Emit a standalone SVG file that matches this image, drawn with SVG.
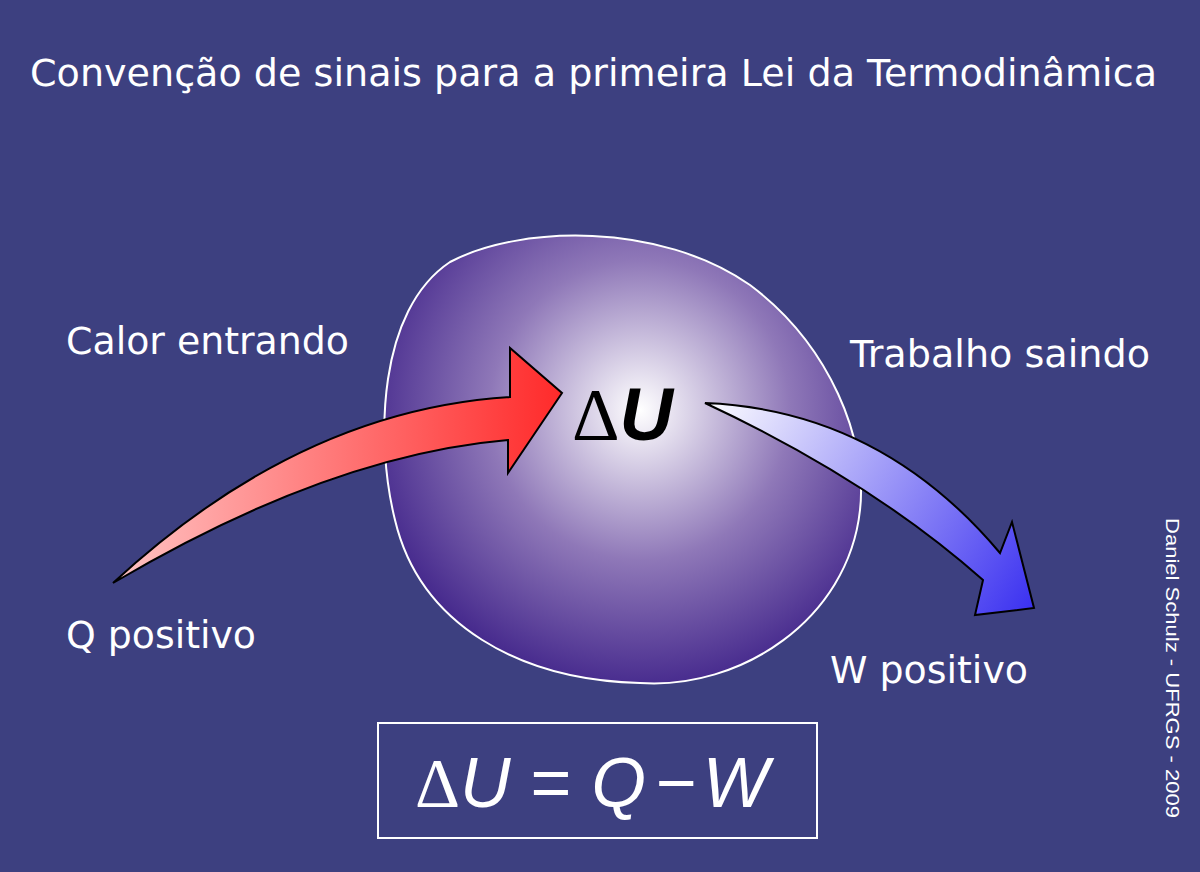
<svg xmlns="http://www.w3.org/2000/svg" width="1200" height="872" viewBox="0 0 1200 872">
<defs>
<radialGradient id="blob" cx="640" cy="410" r="300" gradientUnits="userSpaceOnUse">
<stop offset="0" stop-color="#ffffff"/><stop offset="0.5" stop-color="#8f78b8"/><stop offset="1" stop-color="#3a1d86"/>
</radialGradient>
<linearGradient id="red" x1="113" y1="0" x2="562" y2="0" gradientUnits="userSpaceOnUse">
<stop offset="0" stop-color="#ffc4c4"/><stop offset="1" stop-color="#ff2a2a"/></linearGradient>
<linearGradient id="blue" x1="705" y1="400" x2="1034" y2="610" gradientUnits="userSpaceOnUse">
<stop offset="0" stop-color="#ffffff"/><stop offset="1" stop-color="#3a30f0"/></linearGradient>
<style>
.t{font-family:"DejaVu Sans",Verdana,sans-serif;fill:#fff;font-size:37px}
.m{font-family:"Liberation Sans",Arial,sans-serif;font-style:italic}
</style>
</defs>
<rect width="1200" height="872" fill="#3d4080"/>
<text class="t" x="30" y="86" font-size="38" textLength="1127" lengthAdjust="spacingAndGlyphs">Convenção de sinais para a primeira Lei da Termodinâmica</text>
<g id="system">
<path d="M450,262 C520,225 660,222 750,285 C830,345 868,440 860,510 C848,620 740,690 640,683 C520,680 420,625 395,520 C375,440 378,310 450,262 Z" fill="url(#blob)" stroke="#fff" stroke-width="2"/>
<text x="572" y="440" font-size="74" fill="#000"><tspan font-family="Liberation Serif,serif">Δ</tspan><tspan class="m" font-weight="bold">U</tspan></text>
</g>
<g id="connectors" stroke="#000" stroke-width="2" stroke-linejoin="miter">
<path id="heat" d="M113,583 Q300,410 510,397 L510,348 L562,393 L508,473 L508,440 Q330,455 113,583 Z" fill="url(#red)"/>
<path id="work" d="M705,403 Q880,410 1000,553 L1012,522 L1034,608 L975,615 L983,580 Q870,480 705,403 Z" fill="url(#blue)"/>
</g>
<g id="labels">
<text class="t" x="66" y="354" textLength="283" lengthAdjust="spacingAndGlyphs">Calor entrando</text>
<text class="t" x="850" y="367" textLength="300" lengthAdjust="spacingAndGlyphs">Trabalho saindo</text>
<text class="t" x="66" y="648" textLength="190" lengthAdjust="spacingAndGlyphs">Q positivo</text>
<text class="t" x="830" y="683" textLength="198" lengthAdjust="spacingAndGlyphs">W positivo</text>
</g>
<g id="formula">
<rect x="378" y="723" width="439" height="115" fill="none" stroke="#fff" stroke-width="2"/>
<text x="415" y="807" font-size="70" fill="#fff"><tspan font-family="Liberation Serif,serif">Δ</tspan><tspan class="m">U</tspan><tspan font-family="Liberation Sans,sans-serif" dx="20">=</tspan><tspan class="m" dx="20">Q</tspan><tspan font-family="Liberation Sans,sans-serif" dx="10">−</tspan><tspan class="m" dx="6">W</tspan></text>
</g>
<text transform="translate(1166,518) rotate(90)" font-family="Liberation Sans,Arial,sans-serif" font-size="19" fill="#fff" textLength="300" lengthAdjust="spacingAndGlyphs">Daniel Schulz - UFRGS - 2009</text>
</svg>
